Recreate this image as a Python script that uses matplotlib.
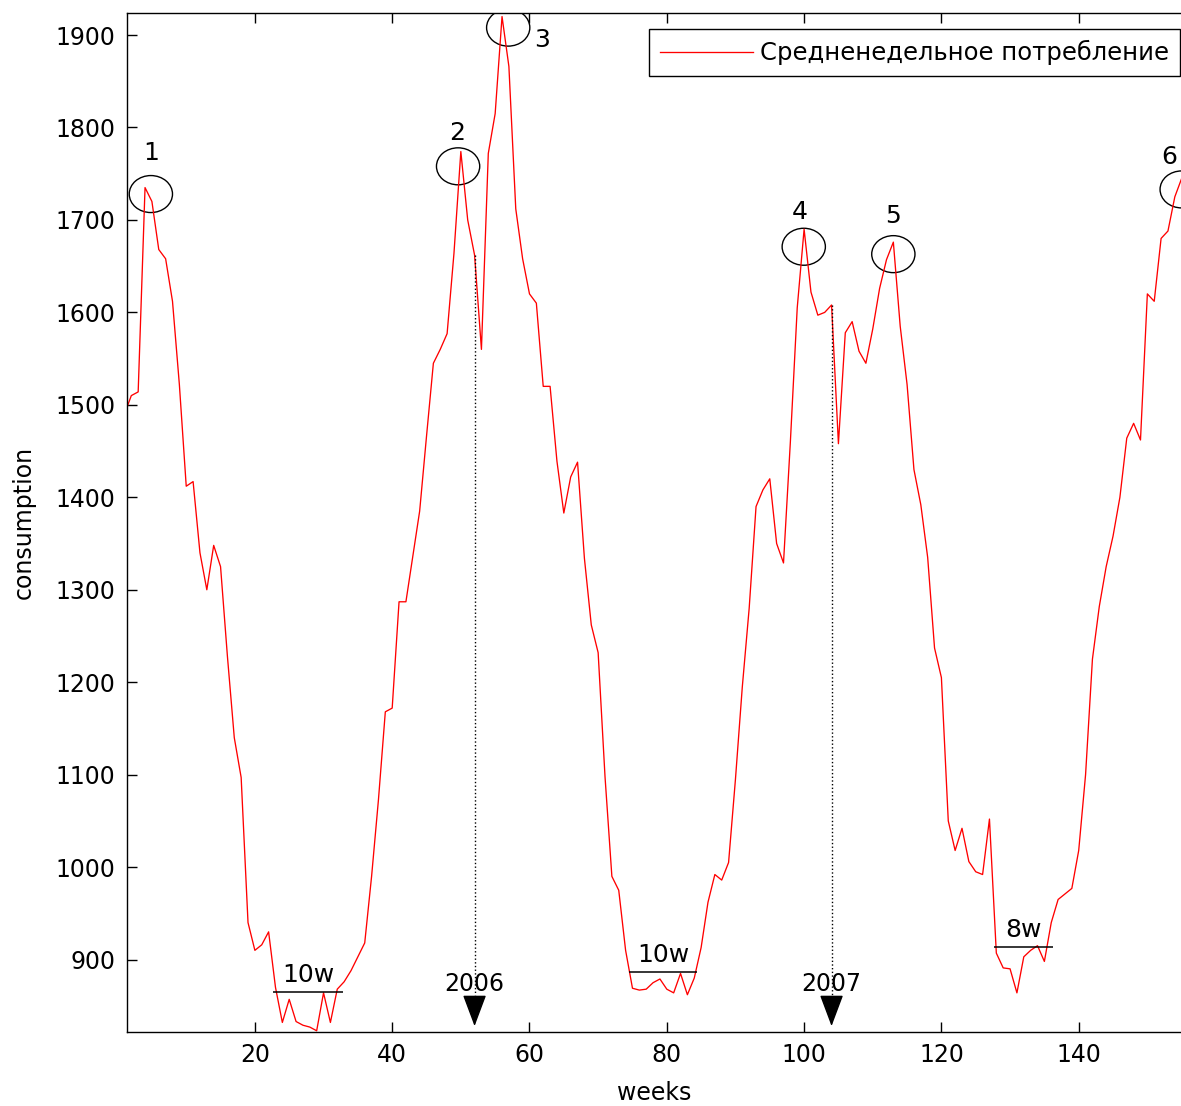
import matplotlib.pyplot as plt
from matplotlib.patches import Ellipse

# weekly averaged consumption
weeks = list(range(1, 156))
consumption = [
    1490, 1510, 1514, 1735, 1720, 1668, 1658, 1612, 1522, 1412,
    1417, 1340, 1300, 1348, 1325, 1228, 1140, 1097, 940, 910,
    916, 930, 870, 832, 857, 833, 829, 827, 823, 864,
    832, 868, 876, 888, 903, 918, 990, 1073, 1168, 1172,
    1287, 1287, 1336, 1385, 1466, 1545, 1560, 1577, 1664, 1774,
    1700, 1662, 1560, 1772, 1815, 1920, 1866, 1712, 1658, 1620,
    1610, 1520, 1520, 1439, 1383, 1422, 1438, 1334, 1262, 1232,
    1098, 990, 975, 910, 869, 867, 868, 875, 879, 868,
    864, 885, 862, 880, 913, 962, 992, 986, 1005, 1095,
    1195, 1280, 1390, 1408, 1420, 1350, 1329, 1460, 1605, 1690,
    1622, 1597, 1600, 1608, 1458, 1578, 1590, 1558, 1545, 1582,
    1626, 1657, 1676, 1585, 1522, 1430, 1392, 1335, 1237, 1205,
    1050, 1018, 1042, 1006, 995, 992, 1052, 907, 891, 890,
    864, 903, 910, 915, 898, 940, 965, 971, 977, 1018,
    1100, 1225, 1282, 1325, 1358, 1400, 1464, 1480, 1462, 1620,
    1612, 1680, 1688, 1725, 1745,
]

# marked peaks
peak_labels = ['1', '2', '3', '4', '5', '6']
peak_weeks = [4.85, 49.6, 56.9, 99.95, 113.0, 155.0]
peak_levels = [1728, 1758, 1908, 1671, 1663, 1733]
label_weeks = [4.85, 49.4, 61.9, 99.4, 113.0, 153.2]
label_levels = [1772, 1794, 1895, 1709, 1704, 1768]

# low-consumption plateaus
low_starts = [22.7, 74.5, 127.6]
low_ends = [32.8, 84.4, 136.3]
low_levels = [865, 887, 914]
low_labels = ['10w', '10w', '8w']

# year boundaries
year_weeks = [52, 104]
year_labels = ['2006', '2007']

W, H = 1181, 1106
fig = plt.figure(figsize=(W / 100, H / 100), dpi=100)
ax = fig.add_axes([126.5 / W, 1 - 1031.7 / H, 1 - 126.5 / W, (1031.7 - 13.3) / H])

ax.plot(weeks, consumption, color='red', lw=0.95, label='Средненедельное потребление')

for x, y in zip(peak_weeks, peak_levels):
    ax.add_patch(Ellipse((x, y), 6.3, 40, fill=False, ec='black', lw=1.0))
for x, y, s in zip(label_weeks, label_levels, peak_labels):
    ax.text(x, y, s, ha='center', va='center', fontsize=18)

for a, b, lev, s in zip(low_starts, low_ends, low_levels, low_labels):
    ax.hlines(lev, a, b, colors='black', lw=1.1)
    ax.text((a + b) / 2, lev + 18, s, ha='center', va='center', fontsize=18)

for w, s in zip(year_weeks, year_labels):
    top = consumption[w - 1]
    ax.plot([w, w], [top, 862], color='black', ls=':', lw=1.0)
    ax.annotate('', xy=(w, 828), xytext=(w, 860),
                arrowprops=dict(arrowstyle='-|>,head_length=2,head_width=0.75',
                                color='black', lw=1.0, shrinkA=0, shrinkB=0))
    ax.text(w, 874, s, ha='center', va='center', fontsize=17)

ax.set_xlim(1.3, 154.9)
ax.set_ylim(822, 1923.5)
ax.set_xticks(range(20, 141, 20))
ax.set_yticks(range(900, 1901, 100))
ax.tick_params(direction='in', length=7, width=1, labelsize=17, top=True, right=False, pad=8)
ax.spines['right'].set_visible(False)
for side in ['left', 'top', 'bottom']:
    ax.spines[side].set_linewidth(1.0)

ax.set_xlabel('weeks', fontsize=17)
ax.xaxis.set_label_coords(0.5, -0.048)
ax.set_ylabel('consumption', fontsize=17)
ax.yaxis.set_label_coords(-0.086, 0.5)

leg = ax.legend(loc='upper right', bbox_to_anchor=(1180 / W, 1 - 29 / H),
                bbox_transform=fig.transFigure, fancybox=False, edgecolor='black',
                framealpha=1, fontsize=17.5, handlelength=3.8, handletextpad=0.3,
                borderpad=0.45, borderaxespad=0)
leg.get_frame().set_linewidth(1.0)

plt.savefig('out.png', dpi=100)
